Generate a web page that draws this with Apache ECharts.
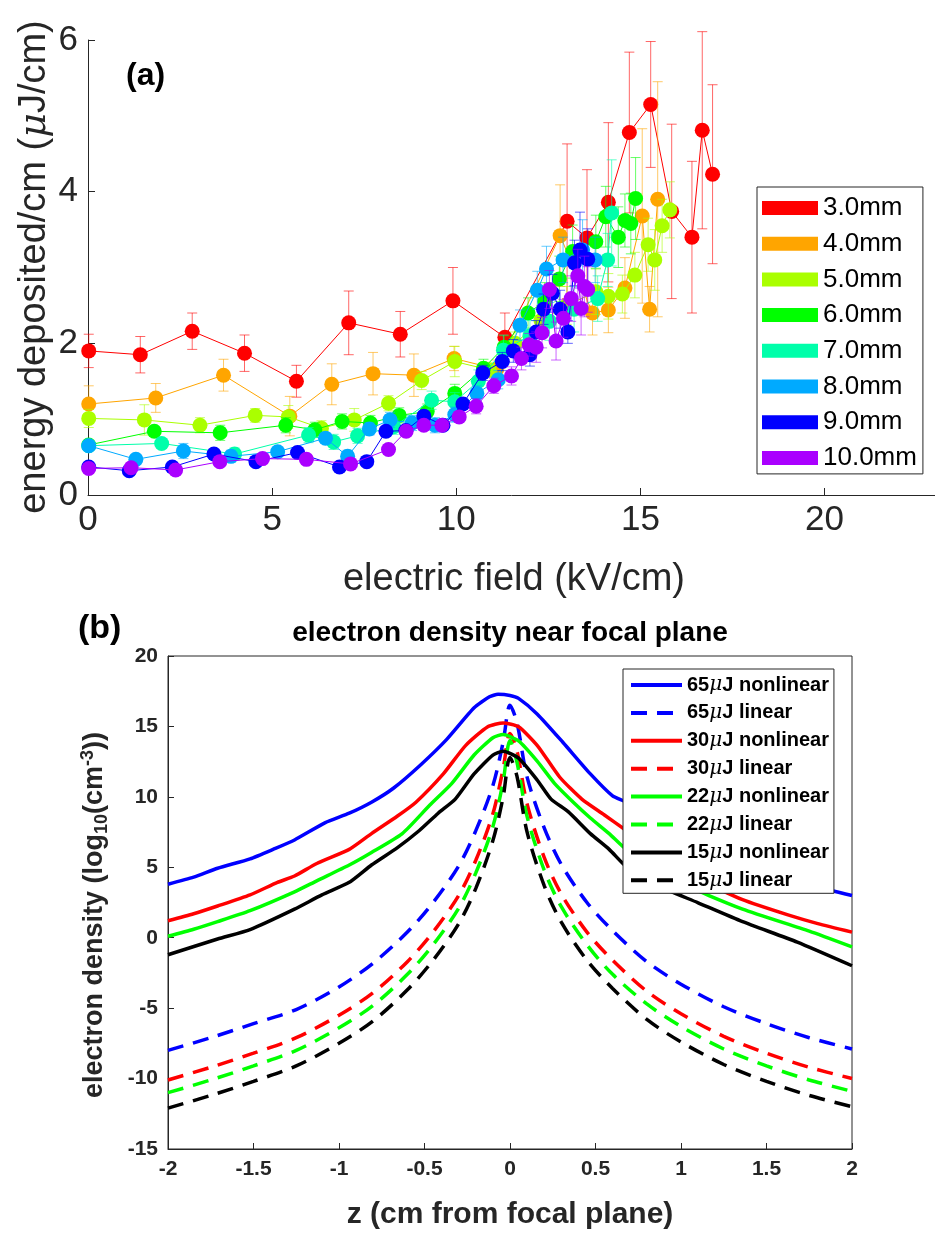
<!DOCTYPE html>
<html>
<head>
<meta charset="utf-8">
<script src="https://cdn.jsdelivr.net/npm/echarts@6/dist/echarts.min.js"></script>
<style>html,body{margin:0;padding:0;background:#fff}#c{width:935px;height:1255px}</style>
</head>
<body>
<div id="c"></div>
<script>
// ---------------- Panel (a) data ----------------
const gapNames = ['3.0mm','4.0mm','5.0mm','6.0mm','7.0mm','8.0mm','9.0mm','10.0mm'];
const fieldTicks = [0,5,10,15,20];
const energyTicks = [0,2,4,6];

const field_3mm = [0.02,1.42,2.83,4.25,5.66,7.08,8.48,9.91,11.32,13.01,13.55,14.13,14.70,15.28,15.85,16.40,16.68,16.96];
const energy_3mm = [1.90,1.85,2.16,1.87,1.50,2.27,2.12,2.56,2.08,3.61,3.39,3.86,4.78,5.15,3.74,3.40,4.81,4.23];
const err_3mm = [0.22,0.24,0.24,0.24,0.21,0.42,0.30,0.44,0.32,1.02,0.90,1.05,1.06,0.83,1.15,1.00,1.30,1.18];

const field_4mm = [0.02,1.84,3.68,5.48,6.62,7.74,8.85,9.94,11.10,12.82,13.70,14.13,14.58,15.05,15.25,15.47];
const energy_4mm = [1.20,1.28,1.58,1.04,1.46,1.60,1.58,1.80,1.66,3.42,2.40,2.44,2.73,3.68,2.45,3.90];
const err_4mm = [0.24,0.19,0.21,0.26,0.27,0.28,0.28,0.16,0.12,0.67,0.29,0.30,0.40,1.15,0.30,1.55];

const field_5mm = [0.02,1.53,3.04,4.54,5.44,6.34,7.23,8.16,9.06,9.96,10.90,11.60,12.30,13.00,13.79,14.13,14.51,14.85,15.21,15.39,15.59,15.80];
const energy_5mm = [1.01,0.99,0.92,1.05,1.03,0.88,0.99,1.21,1.51,1.76,1.65,2.00,2.30,2.50,2.68,2.62,2.65,2.90,3.30,3.10,3.55,3.76];
const err_5mm = [0.12,0.20,0.10,0.09,0.15,0.10,0.15,0.10,0.12,0.20,0.10,0.15,0.20,0.25,0.30,0.30,0.25,0.30,0.35,0.40,0.35,0.37];

const field_6mm = [0.02,1.80,3.59,5.37,6.16,6.90,7.67,8.45,9.21,9.96,10.74,11.30,11.95,12.40,12.80,13.16,13.79,14.06,14.40,14.58,14.74,14.87];
const energy_6mm = [0.66,0.84,0.82,0.92,0.86,0.97,0.95,1.05,1.10,1.34,1.67,1.95,2.40,2.55,2.85,3.21,3.34,3.67,3.40,3.62,3.58,3.91];
const err_6mm = [0.05,0.05,0.10,0.10,0.10,0.10,0.10,0.10,0.10,0.12,0.12,0.15,0.20,0.25,0.30,0.35,0.35,0.40,0.40,0.35,0.40,0.54];

const field_7mm = [0.02,2.00,3.98,5.99,6.67,7.32,8.30,9.33,9.96,10.60,11.28,12.00,12.53,13.20,13.84,14.11,14.22];
const energy_7mm = [0.65,0.68,0.54,0.79,0.70,0.78,0.90,1.25,1.23,1.50,1.91,2.10,2.29,2.45,2.59,3.10,3.72];
const err_7mm = [0.06,0.06,0.08,0.10,0.10,0.10,0.10,0.12,0.12,0.15,0.20,0.20,0.25,0.30,0.30,0.35,0.70];

const field_8mm = [0.02,1.30,2.59,3.88,5.15,6.45,7.05,7.64,8.20,8.80,9.42,9.96,10.56,11.14,11.73,12.20,12.45,12.90,13.43,13.77];
const energy_8mm = [0.65,0.47,0.58,0.51,0.57,0.75,0.51,0.87,0.99,0.95,0.92,1.06,1.34,1.52,2.24,2.70,2.98,3.10,3.23,3.10];
const err_8mm = [0.06,0.06,0.10,0.08,0.06,0.06,0.08,0.08,0.10,0.10,0.10,0.10,0.10,0.12,0.20,0.25,0.30,0.30,0.40,0.30];

const field_9mm = [0.02,1.12,2.29,3.42,4.56,5.69,6.83,7.57,8.09,8.63,9.12,9.64,10.18,10.72,11.25,11.55,12.00,12.17,12.37,12.61,12.82,13.03,13.21,13.36,13.57];
const energy_9mm = [0.37,0.32,0.37,0.54,0.44,0.56,0.37,0.44,0.84,0.85,1.04,0.92,1.20,1.61,1.76,1.90,1.85,2.15,2.45,2.66,2.45,2.15,3.06,3.23,3.11];
const err_9mm = [0.04,0.04,0.04,0.04,0.05,0.05,0.05,0.05,0.06,0.06,0.06,0.06,0.06,0.10,0.12,0.15,0.15,0.15,0.20,0.25,0.25,0.15,0.30,0.50,0.40];

const field_10mm = [0.02,1.17,2.38,3.58,4.74,5.93,7.13,8.16,8.64,9.12,9.61,10.08,10.54,11.02,11.50,11.77,11.98,12.17,12.33,12.53,12.71,12.91,13.12,13.30,13.39,13.48,13.57];
const energy_10mm = [0.35,0.36,0.33,0.44,0.48,0.47,0.41,0.60,0.84,0.92,0.92,1.03,1.17,1.44,1.57,1.80,1.98,1.95,2.14,2.71,2.03,2.33,2.59,2.89,2.46,2.75,2.71];
const err_10mm = [0.03,0.03,0.03,0.04,0.04,0.04,0.05,0.06,0.06,0.06,0.06,0.06,0.10,0.10,0.12,0.15,0.15,0.20,0.20,0.25,0.25,0.25,0.30,0.35,0.35,0.40,0.30];

// ---------------- Panel (b) data ----------------
const curveNames = ['65μJ nonlinear','65μJ linear','30μJ nonlinear','30μJ linear','22μJ nonlinear','22μJ linear','15μJ nonlinear','15μJ linear'];
const zTicks = [-2,-1.5,-1,-0.5,0,0.5,1,1.5,2];
const densTicks = [-15,-10,-5,0,5,10,15,20];

const nl65 = [[-2,3.8],[-1.85,4.3],[-1.71,4.93],[-1.52,5.6],[-1.38,6.3],[-1.26,6.94],[-1.08,8.17],[-0.94,8.84],[-0.81,9.62],[-0.68,10.63],[-0.52,12.3],[-0.37,14.08],[-0.21,16.32],[-0.12,17.1],[-0.07,17.28],[0.0,17.2],[0.05,16.99],[0.16,15.87],[0.31,13.86],[0.47,11.63],[0.6,10.07],[0.68,9.62],[0.8,8.6],[1.0,7.3],[1.2,6.2],[1.4,5.2],[1.6,4.4],[1.8,3.6],[2.0,3.0]];
const nl30 = [[-2,1.2],[-1.85,1.7],[-1.71,2.25],[-1.52,3.04],[-1.36,3.93],[-1.26,4.38],[-1.13,5.27],[-0.94,6.27],[-0.81,7.39],[-0.66,8.62],[-0.55,9.62],[-0.39,11.63],[-0.26,13.64],[-0.13,14.98],[-0.04,15.25],[0.05,14.98],[0.16,13.64],[0.29,11.41],[0.42,9.84],[0.55,8.73],[0.68,7.61],[0.85,6.2],[1.1,4.2],[1.36,2.7],[1.63,1.6],[1.8,1.0],[2.0,0.4]];
const nl22 = [[-2,0.1],[-1.85,0.6],[-1.71,1.14],[-1.52,1.92],[-1.26,3.26],[-1.13,4.04],[-0.94,5.16],[-0.81,6.05],[-0.63,7.39],[-0.47,9.4],[-0.34,10.96],[-0.21,12.97],[-0.1,14.2],[-0.04,14.42],[0.05,13.97],[0.16,12.52],[0.26,10.96],[0.37,9.62],[0.47,8.5],[0.58,7.39],[0.68,6.27],[0.97,4.04],[1.36,2.03],[1.75,0.47],[2.0,-0.65]];
const nl15 = [[-2,-1.21],[-1.71,-0.09],[-1.52,0.58],[-1.26,2.03],[-1.1,3.04],[-0.94,3.93],[-0.81,5.16],[-0.66,6.38],[-0.53,7.61],[-0.42,8.84],[-0.32,9.84],[-0.21,11.63],[-0.1,12.97],[-0.04,13.24],[0.05,12.75],[0.16,11.18],[0.24,9.84],[0.34,8.95],[0.47,7.39],[0.58,6.27],[0.68,5.04],[0.84,3.82],[1.1,2.48],[1.36,1.14],[1.68,-0.31],[2.0,-1.99]];

const zLin = [-2,-1.75,-1.5,-1.25,-1,-0.8,-0.6,-0.45,-0.3,-0.2,-0.1,-0.04,0,0.04,0.1,0.2,0.3,0.45,0.6,0.8,1,1.25,1.5,1.75,2];
const lin65 = [-8.0,-7.1,-6.1,-5.1,-3.5,-1.8,0.4,2.5,5.1,7.6,10.8,13.9,16.5,15.3,11.4,7.8,5.2,2.5,0.5,-1.7,-3.3,-4.9,-6.1,-7.1,-7.9];
const lin30 = [-10.1,-9.2,-8.2,-7.1,-5.5,-3.9,-1.7,0.4,3.0,5.5,8.8,12.0,14.5,13.3,9.5,5.7,3.1,0.4,-1.6,-3.8,-5.4,-7.0,-8.2,-9.2,-10.0];
const lin22 = [-11.0,-10.1,-9.1,-8.0,-6.4,-4.8,-2.6,-0.5,2.1,4.6,7.9,11.1,14.0,12.5,8.6,4.8,2.2,-0.5,-2.6,-4.7,-6.3,-7.9,-9.1,-10.1,-10.9];
const lin15 = [-12.1,-11.2,-10.2,-9.1,-7.5,-5.9,-3.7,-1.6,1.0,3.5,6.9,10.0,12.8,11.5,7.5,3.7,1.1,-1.6,-3.6,-5.8,-7.4,-9.0,-10.2,-11.2,-12.0];

// ---------------- build ----------------
const gapColors = ['#ff0000','#ffa500','#aaff00','#00ff00','#00ffaa','#00aaff','#0000ff','#aa00ff'];
const gapData = [
  [field_3mm, energy_3mm, err_3mm],[field_4mm, energy_4mm, err_4mm],[field_5mm, energy_5mm, err_5mm],
  [field_6mm, energy_6mm, err_6mm],[field_7mm, energy_7mm, err_7mm],[field_8mm, energy_8mm, err_8mm],
  [field_9mm, energy_9mm, err_9mm],[field_10mm, energy_10mm, err_10mm]
];
const FONT = "'Liberation Sans', Arial, Helvetica, sans-serif";
const TXT = '#262626';

const series = [];
gapData.forEach((d, i) => {
  const color = gapColors[i];
  const pts = d[0].map((x, k) => [x, d[1][k], d[2][k]]);
  series.push({
    type: 'custom', name: gapNames[i] + ' err', xAxisIndex: 0, yAxisIndex: 0, z: 10 + 2 * i, clip: false,
    silent: true, animation: false,
    encode: { x: 0, y: 1 },
    data: pts,
    renderItem: function (params, api) {
      const x = api.value(0), y = api.value(1), e = api.value(2);
      const t = api.coord([x, y + e]), b = api.coord([x, y - e]);
      const hw = 5;
      const st = { stroke: color, lineWidth: 1, opacity: 0.6 };
      return { type: 'group', children: [
        { type: 'line', shape: { x1: t[0], y1: t[1], x2: b[0], y2: b[1] }, style: st },
        { type: 'line', shape: { x1: t[0] - hw, y1: t[1], x2: t[0] + hw, y2: t[1] }, style: st },
        { type: 'line', shape: { x1: b[0] - hw, y1: b[1], x2: b[0] + hw, y2: b[1] }, style: st }
      ]};
    }
  });
  series.push({
    type: 'line', name: gapNames[i], xAxisIndex: 0, yAxisIndex: 0, z: 11 + 2 * i,
    data: pts.map(p => [p[0], p[1]]),
    symbol: 'circle', symbolSize: 15, showSymbol: true,
    itemStyle: { color: color },
    lineStyle: { color: color, width: 1 },
    animation: false, clip: false
  });
});

const curveColors = ['#0000ff','#0000ff','#ff0000','#ff0000','#00ff00','#00ff00','#000000','#000000'];
const curveData = [
  nl65, zLin.map((z, k) => [z, lin65[k]]),
  nl30, zLin.map((z, k) => [z, lin30[k]]),
  nl22, zLin.map((z, k) => [z, lin22[k]]),
  nl15, zLin.map((z, k) => [z, lin15[k]])
];
curveData.forEach((d, i) => {
  const dashed = i % 2 === 1;
  series.push({
    type: 'line', name: curveNames[i], xAxisIndex: 1, yAxisIndex: 1, z: 2,
    data: d, symbol: 'none', smooth: dashed ? 0.3 : 0.2,
    lineStyle: { color: curveColors[i], width: 3.5, type: dashed ? [16, 10] : 'solid' },
    itemStyle: { color: curveColors[i], opacity: 0 },
    animation: false
  });
});

const chart = echarts.init(document.getElementById('c'), null, { renderer: 'canvas' });
chart.setOption({
  backgroundColor: '#fff',
  animation: false,
  textStyle: { fontFamily: FONT },
  grid: [
    { left: 88, top: 40, width: 853, height: 455, show: false },
    { left: 168, top: 656, width: 684, height: 493, show: true, borderColor: TXT, borderWidth: 1, backgroundColor: 'transparent' }
  ],
  xAxis: [
    { type: 'value', gridIndex: 0, min: 0, max: 23, interval: 5,
      axisLine: { show: true, onZero: false, lineStyle: { color: TXT, width: 1 } },
      axisTick: { show: true, inside: true, length: 7, lineStyle: { color: TXT } },
      axisLabel: { color: TXT, fontSize: 35, fontFamily: FONT, margin: 8, showMaxLabel: false },
      splitLine: { show: false } },
    { type: 'value', gridIndex: 1, min: -2, max: 2, interval: 0.5,
      axisLine: { show: true, onZero: false, lineStyle: { color: TXT, width: 1 } },
      axisTick: { show: true, inside: true, length: 6, lineStyle: { color: TXT } },
      axisLabel: { color: TXT, fontSize: 21, fontWeight: 'bold', fontFamily: FONT, margin: 10 },
      splitLine: { show: false } }
  ],
  yAxis: [
    { type: 'value', gridIndex: 0, min: 0, max: 6, interval: 2,
      axisLine: { show: true, onZero: false, lineStyle: { color: TXT, width: 1 } },
      axisTick: { show: true, inside: true, length: 7, lineStyle: { color: TXT } },
      axisLabel: { color: TXT, fontSize: 35, fontFamily: FONT, margin: 10 },
      splitLine: { show: false } },
    { type: 'value', gridIndex: 1, min: -15, max: 20, interval: 5,
      axisLine: { show: true, onZero: false, lineStyle: { color: TXT, width: 1 } },
      axisTick: { show: true, inside: true, length: 6, lineStyle: { color: TXT } },
      axisLabel: { color: TXT, fontSize: 21, fontWeight: 'bold', fontFamily: FONT, margin: 10 },
      splitLine: { show: false } }
  ],
  legend: [
    { data: gapNames, orient: 'vertical', left: 757, top: 187, icon: 'rect', z: 20,
      itemWidth: 56, itemHeight: 14, itemGap: 9.7, padding: [8, 6, 3, 5],
      borderColor: TXT, borderWidth: 1, backgroundColor: '#fff',
      textStyle: { color: '#000', fontSize: 26, fontFamily: FONT, lineHeight: 26 }, selectedMode: false },
    { data: curveNames, orient: 'vertical', left: 623, top: 669, z: 20,
      itemWidth: 51, itemHeight: 14, itemGap: 7.9, padding: [6, 5, 3, 6],
      borderColor: TXT, borderWidth: 1, backgroundColor: '#fff',
      itemStyle: { opacity: 0 },
      lineStyle: { width: 4 },
      formatter: n => n.replace('μ', '{m|μ}'),
      textStyle: { color: '#000', fontSize: 20, fontWeight: 'bold', fontFamily: FONT, lineHeight: 20,
        rich: { m: { fontSize: 20, fontStyle: 'italic', fontWeight: 'normal', fontFamily: "'DejaVu Serif', serif", color: '#000' } } },
      selectedMode: false }
  ],
  graphic: [
    { type: 'text', left: 126, top: 60, style: { text: '(a)', font: 'bold 32px ' + FONT, fill: '#000' } },
    { type: 'text', x: 514, y: 580, style: { text: 'electric field (kV/cm)', font: '38px ' + FONT, fill: TXT, textAlign: 'center', textVerticalAlign: 'middle' } },
    { type: 'text', x: 35, y: 267, rotation: Math.PI / 2,
      style: { text: '{n|energy deposited/cm (}{m|μ}{n|J/cm)}', textAlign: 'center', textVerticalAlign: 'middle', fill: TXT,
        rich: { n: { fontSize: 38, fontFamily: FONT, fill: TXT }, m: { fontSize: 38, fontStyle: 'italic', fontFamily: "'DejaVu Serif', serif", fill: TXT } } } },
    { type: 'text', left: 78, top: 612, style: { text: '(b)', font: 'bold 34px ' + FONT, fill: '#000' } },
    { type: 'text', x: 510, y: 633, style: { text: 'electron density near focal plane', font: 'bold 28px ' + FONT, fill: '#000', textAlign: 'center', textVerticalAlign: 'middle' } },
    { type: 'text', x: 510, y: 1215, style: { text: 'z (cm from focal plane)', font: 'bold 30px ' + FONT, fill: TXT, textAlign: 'center', textVerticalAlign: 'middle' } },
    { type: 'text', x: 95, y: 915, rotation: Math.PI / 2,
      style: { text: '{n|electron density (log}{s|10}{n|(cm}{p|-3}{n|))}', textAlign: 'center', textVerticalAlign: 'middle', fill: TXT,
        rich: {
          n: { fontSize: 27, fontWeight: 'bold', fontFamily: FONT, fill: TXT, lineHeight: 32, verticalAlign: 'middle' },
          s: { fontSize: 18, fontWeight: 'bold', fontFamily: FONT, fill: TXT, lineHeight: 18, verticalAlign: 'bottom' },
          p: { fontSize: 18, fontWeight: 'bold', fontFamily: FONT, fill: TXT, lineHeight: 18, verticalAlign: 'top' }
        } } }
  ],
  series: series
});
</script>
</body>
</html>
